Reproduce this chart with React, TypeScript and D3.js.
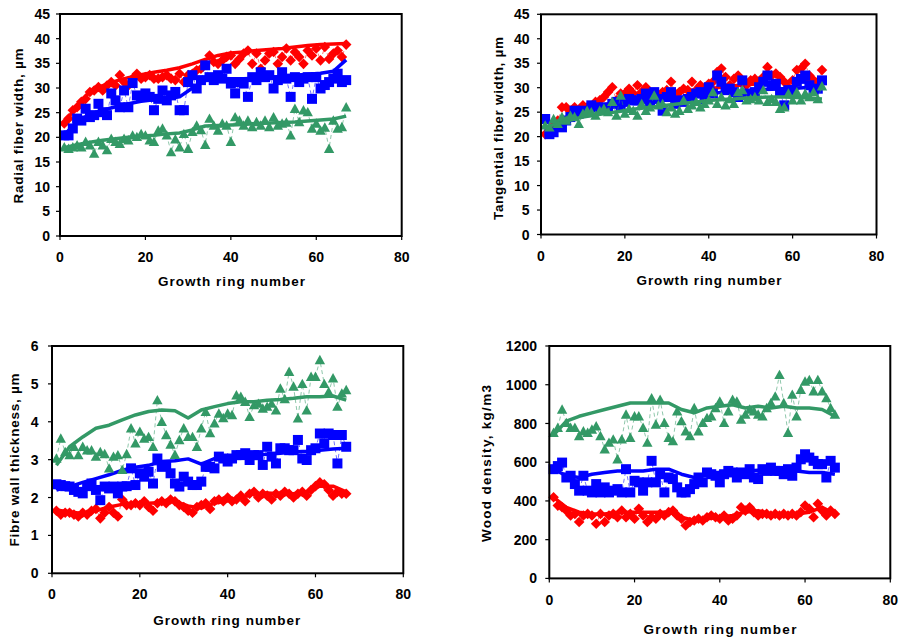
import React from 'react';
import * as d3 from 'd3';

// ring numbers of the thick trend lines
const TREND_RINGS = [1, 4, 7, 10, 13, 16, 19, 22, 25, 28, 31, 34, 37, 40, 43, 46, 49, 52, 55, 58, 61, 64, 67];
const X_TICKS = [0, 20, 40, 60, 80];
const X_TITLE = 'Growth ring number';

// ---- Radial fiber width (µm), rings 1..67
const RADIAL_RED = [22.8,23.8,25.5,26.1,27.2,27.8,29.2,29.5,30.2,29.5,30.5,31.2,30.5,32.6,31.2,30.5,31.9,32.9,31.9,32.2,32.6,31.9,31.9,32.2,32.6,31.9,31.6,32.9,31.2,32.6,32.9,33.6,33.9,34.9,36.6,35.3,34.9,35.6,36.3,36.6,34.9,35.9,37.0,37.6,34.9,37.0,33.9,35.6,37.0,37.3,34.9,36.3,38.0,35.6,37.3,36.3,34.9,37.6,36.6,38.0,35.6,38.3,35.9,37.0,37.6,36.3,38.8];
const RADIAL_BLUE = [20.4,20.4,21.8,23.8,23.4,25.8,24.1,24.5,26.8,25.1,24.5,28.9,27.5,26.1,29.5,26.1,31.0,28.5,28.2,28.9,28.2,25.5,27.8,29.5,27.5,28.5,29.2,25.5,25.5,31.2,32.6,29.9,31.6,34.6,32.2,31.6,32.6,31.9,33.9,30.9,28.9,31.2,30.9,28.2,32.2,31.6,33.2,32.2,32.6,29.9,31.6,33.2,31.9,28.2,32.2,31.2,31.9,32.2,27.8,32.2,29.9,30.6,31.2,31.9,32.9,31.2,31.6];
const RADIAL_GREEN = [18.0,17.7,18.0,18.4,18.0,19.1,18.4,16.7,19.1,18.4,17.4,19.7,19.1,18.7,19.7,19.4,20.4,20.1,20.7,20.4,19.4,19.1,21.4,21.8,20.4,17.0,19.6,18.0,20.7,17.7,21.1,22.4,21.5,18.5,23.8,22.4,21.4,22.8,22.4,19.1,24.1,23.4,22.4,23.4,22.1,23.1,22.4,23.4,22.1,24.1,22.4,22.8,23.0,20.4,25.8,23.1,25.5,25.1,21.8,22.8,21.4,22.0,17.7,23.4,21.8,22.1,26.1];
const RADIAL_RED_TREND = [22.8,26.5,29.3,30.5,31.4,32.1,32.7,33.2,33.6,34.1,34.9,35.8,36.6,37.1,37.3,37.6,37.8,38.0,38.3,38.6,38.8,38.9,39.0];
const RADIAL_BLUE_TREND = [20.5,23.2,24.7,25.5,26.2,26.8,27.3,27.6,27.8,28.2,30.0,31.5,31.9,31.9,31.9,32.0,32.1,32.4,32.6,32.8,33.0,33.4,35.7];
const RADIAL_GREEN_TREND = [17.9,18.5,19.0,19.4,19.7,20.0,20.2,20.4,20.7,20.9,21.5,22.3,22.4,22.5,22.6,22.8,22.9,23.0,23.1,23.3,23.5,23.7,24.3];

// ---- Tangential fiber width (µm)
const TANG_RED = [20.5,21.6,22.3,23.3,26.0,26.0,25.3,26.0,25.3,26.4,26.0,26.0,27.1,27.4,28.1,29.1,30.1,27.4,28.8,28.8,29.8,28.8,30.5,29.1,30.1,28.4,28.8,27.4,29.1,29.5,31.2,28.8,29.1,29.8,29.5,31.2,29.5,30.5,29.8,30.8,31.2,33.2,33.9,32.2,30.5,31.8,32.5,31.2,30.5,31.5,31.8,31.2,32.2,34.2,32.5,32.9,32.2,31.2,30.1,31.5,33.6,33.9,34.9,32.5,31.5,31.2,33.6];
const TANG_BLUE = [23.6,20.5,20.9,22.3,21.9,23.3,24.0,25.3,24.7,25.3,25.0,26.4,26.0,25.7,26.0,25.7,26.7,27.1,26.0,27.1,27.7,27.4,27.4,27.7,28.8,27.1,29.1,27.7,25.3,28.1,29.1,26.7,27.4,27.1,27.7,28.1,28.8,29.1,27.7,30.1,28.8,32.5,31.2,29.5,29.8,29.1,28.1,31.5,28.8,28.4,29.1,30.1,31.2,32.5,30.5,30.8,29.1,26.4,29.5,29.5,31.2,31.8,32.5,30.5,29.5,29.8,31.5];
const TANG_GREEN = [22.3,21.9,23.6,22.6,24.0,23.3,24.3,24.0,22.6,24.7,25.3,25.0,24.3,25.3,25.7,25.0,27.1,24.3,28.4,24.7,25.7,25.3,24.3,26.7,25.3,26.0,28.4,26.4,26.7,25.0,26.0,24.7,25.3,27.4,25.7,26.4,27.1,26.0,26.7,27.4,29.1,26.7,28.1,26.4,27.7,26.7,29.1,29.5,27.4,27.7,28.1,27.4,29.5,27.1,27.7,27.1,25.7,26.0,28.8,27.4,29.1,27.4,28.8,28.1,29.1,27.7,30.3];
const TANG_RED_TREND = [20.9,22.7,24.2,25.3,26.1,26.7,27.3,27.8,28.2,28.6,29.0,29.3,29.6,29.8,30.1,30.4,30.6,30.8,31.0,31.1,31.2,31.4,31.5];
const TANG_BLUE_TREND = [20.2,22.0,23.5,24.7,25.5,26.1,26.5,26.9,27.2,27.5,27.8,28.1,28.5,28.8,29.0,29.2,29.4,29.6,29.7,29.8,29.9,30.1,30.3];
const TANG_GREEN_TREND = [21.9,22.7,23.4,24.0,24.4,24.8,25.2,25.6,25.9,26.2,26.5,26.8,27.1,27.4,27.6,27.7,27.9,28.0,28.1,28.1,28.0,27.9,27.7];

// ---- Fibre wall thickness (µm)
const WALL_RED = [1.65,1.55,1.6,1.6,1.55,1.5,1.6,1.55,1.65,1.7,1.45,1.6,1.75,1.6,1.5,1.95,1.8,1.8,1.85,1.8,1.9,1.75,1.65,1.85,1.9,1.85,1.95,1.9,1.8,1.75,1.65,1.6,1.75,1.8,1.85,1.7,1.9,1.95,1.9,2.0,1.9,1.95,2.05,1.9,2.1,2.15,2.0,2.1,2.05,1.95,2.1,2.05,2.15,2.1,2.0,2.1,2.15,2.05,2.2,2.3,2.4,2.35,2.2,2.05,2.15,2.1,2.1];
const WALL_BLUE = [2.35,2.33,2.3,2.29,2.2,2.15,2.11,2.3,2.37,2.2,1.93,2.29,2.24,2.29,2.11,2.29,2.3,2.77,2.33,2.64,2.55,2.68,2.37,3.03,2.81,2.86,2.64,2.37,2.29,2.55,2.42,2.33,2.33,2.42,2.81,2.81,2.77,3.08,3.03,2.95,3.03,3.12,3.12,3.17,2.99,3.12,3.12,2.86,3.34,3.08,2.9,3.3,3.3,3.25,3.25,3.52,3.03,2.99,3.25,3.3,3.69,3.43,3.69,3.65,2.9,3.65,3.34];
const WALL_GREEN = [3.03,3.56,3.2,3.12,3.34,3.12,3.34,3.25,3.25,3.08,3.2,3.15,2.77,3.08,3.12,2.73,3.15,3.83,3.43,3.74,3.56,3.6,3.34,4.57,4.0,3.65,3.4,3.13,3.52,3.83,3.6,3.6,3.34,3.83,4.26,3.7,3.96,4.22,4.1,4.22,4.18,4.7,4.66,4.53,4.13,4.44,4.48,4.35,4.4,4.48,4.3,4.88,4.6,5.32,4.93,4.09,5.0,4.3,5.19,5.19,5.63,5.0,4.79,5.15,4.4,4.75,4.84];
const WALL_RED_TREND = [1.67,1.62,1.58,1.65,1.75,1.82,1.85,1.85,1.87,1.9,1.78,1.72,1.85,1.92,2.0,2.1,2.12,2.1,2.1,2.15,2.3,2.3,2.15];
const WALL_BLUE_TREND = [2.2,2.29,2.4,2.5,2.6,2.72,2.8,2.85,2.95,2.97,3.02,2.88,3.03,3.07,3.1,3.12,3.14,3.17,3.2,3.22,3.25,3.28,3.3];
const WALL_GREEN_TREND = [2.85,3.34,3.6,3.83,3.91,4.05,4.18,4.27,4.31,4.29,4.1,4.31,4.4,4.48,4.53,4.53,4.57,4.59,4.62,4.66,4.66,4.68,4.57];

// ---- Wood density (kg/m3)
const DENS_RED = [419,376,367,350,325,333,291,325,333,325,282,333,291,325,333,316,350,316,333,308,359,325,291,316,308,333,325,342,350,325,308,273,291,299,308,299,316,325,316,308,325,299,308,325,367,350,367,342,325,333,333,325,333,325,333,325,333,325,342,376,359,316,385,350,325,350,333];
const DENS_BLUE = [564,580,598,521,530,487,453,530,453,444,487,444,470,444,453,461,444,564,444,504,496,453,496,607,496,538,444,521,513,470,444,444,461,487,521,496,547,538,530,496,538,555,547,521,547,538,564,521,513,564,555,572,555,555,538,564,530,572,615,641,624,607,590,590,521,607,572];
const DENS_GREEN = [752,778,872,803,778,778,735,760,752,769,786,735,667,701,718,615,718,846,726,837,837,778,701,931,795,923,803,726,709,863,812,760,735,880,760,803,829,837,880,914,803,863,923,914,820,846,872,863,846,837,880,906,940,1051,906,752,949,837,974,1017,1025,966,1025,966,931,880,846];
const DENS_RED_TREND = [419,367,342,333,333,342,342,342,342,342,316,299,308,316,325,342,350,333,333,333,342,367,333];
const DENS_BLUE_TREND = [564,530,521,538,547,555,555,555,564,564,538,521,538,547,555,555,559,564,564,555,547,547,538];
const DENS_GREEN_TREND = [740,812,837,855,872,889,906,906,906,906,872,855,880,889,897,880,889,880,889,880,880,872,837];

const RED = '#FF0000';
const BLUE = '#0000FF';
const GREEN = '#339966';

type Kind = 'diamond' | 'square' | 'triangle';
interface SeriesDef { color: string; kind: Kind; points: number[]; trend: number[] }
interface PanelDef {
  title: string; yMax: number; yStep: number;
  left: number; right: number; top: number; bottom: number;
  yLabelRight: number; xLabelBase: number; xTitleBase: number; xTitleCx: number; xTitleLen: number;
  yTitleCx: number; yTitleCy: number; yTitleLen: number;
  series: SeriesDef[];
}

const PANELS: PanelDef[] = [
  {
    title: 'Radial fiber width, µm', yMax: 45, yStep: 5,
    left: 60, right: 401.7, top: 14, bottom: 236,
    yLabelRight: 50, xLabelBase: 261.5, xTitleBase: 285.5, xTitleCx: 231.5, xTitleLen: 147,
    yTitleCx: 18, yTitleCy: 126, yTitleLen: 155,
    series: [
      { color: RED, kind: 'diamond', points: RADIAL_RED, trend: RADIAL_RED_TREND },
      { color: BLUE, kind: 'square', points: RADIAL_BLUE, trend: RADIAL_BLUE_TREND },
      { color: GREEN, kind: 'triangle', points: RADIAL_GREEN, trend: RADIAL_GREEN_TREND },
    ],
  },
  {
    title: 'Tangential fiber width, µm', yMax: 45, yStep: 5,
    left: 541, right: 876.5, top: 14.3, bottom: 234.5,
    yLabelRight: 529.5, xLabelBase: 260.7, xTitleBase: 284.5, xTitleCx: 709, xTitleLen: 145,
    yTitleCx: 498.5, yTitleCy: 128.5, yTitleLen: 183,
    series: [
      { color: RED, kind: 'diamond', points: TANG_RED, trend: TANG_RED_TREND },
      { color: BLUE, kind: 'square', points: TANG_BLUE, trend: TANG_BLUE_TREND },
      { color: GREEN, kind: 'triangle', points: TANG_GREEN, trend: TANG_GREEN_TREND },
    ],
  },
  {
    title: 'Fibre wall thickness, µm', yMax: 6, yStep: 1,
    left: 52, right: 403.3, top: 346, bottom: 573.3,
    yLabelRight: 38.5, xLabelBase: 599, xTitleBase: 625, xTitleCx: 226.7, xTitleLen: 147,
    yTitleCx: 14.5, yTitleCy: 460, yTitleLen: 173,
    series: [
      { color: RED, kind: 'diamond', points: WALL_RED, trend: WALL_RED_TREND },
      { color: BLUE, kind: 'square', points: WALL_BLUE, trend: WALL_BLUE_TREND },
      { color: GREEN, kind: 'triangle', points: WALL_GREEN, trend: WALL_GREEN_TREND },
    ],
  },
  {
    title: 'Wood density, kg/m3', yMax: 1200, yStep: 200,
    left: 549.3, right: 890.3, top: 346, bottom: 578.4,
    yLabelRight: 537, xLabelBase: 605, xTitleBase: 633.5, xTitleCx: 720, xTitleLen: 153,
    yTitleCx: 486, yTitleCy: 463.5, yTitleLen: 157,
    series: [
      { color: RED, kind: 'diamond', points: DENS_RED, trend: DENS_RED_TREND },
      { color: BLUE, kind: 'square', points: DENS_BLUE, trend: DENS_BLUE_TREND },
      { color: GREEN, kind: 'triangle', points: DENS_GREEN, trend: DENS_GREEN_TREND },
    ],
  },
];

const FONT = '"Liberation Sans", Arial, Helvetica, sans-serif';

function markerPath(kind: Kind): string {
  if (kind === 'diamond') return 'M0,-5.3L5.3,0L0,5.3L-5.3,0Z';
  if (kind === 'square') return 'M-5,-5H5V5H-5Z';
  return 'M0,-5.2L5.2,4.2L-5.2,4.2Z';
}

function Panel({ p }: { p: PanelDef }) {
  const x = d3.scaleLinear().domain([0, 80]).range([p.left, p.right]);
  const y = d3.scaleLinear().domain([0, p.yMax]).range([p.bottom, p.top]);
  const yTicks = d3.range(0, p.yMax + p.yStep / 2, p.yStep);
  const thin = d3.line<number>().x((_, i) => x(i + 1)).y((d) => y(d));
  const trend = d3.line<number>().x((_, i) => x(TREND_RINGS[i])).y((d) => y(d));
  return (
    <g>
      {p.series.map((s, si) => (
        <g key={si}>
          <path d={thin(s.points) || ''} fill="none" stroke={s.color} strokeOpacity={0.55} strokeWidth={1} strokeDasharray="4,3" />
          <path d={trend(s.trend) || ''} fill="none" stroke={s.color} strokeWidth={3.5} strokeLinejoin="round" />
          {s.points.map((v, i) => (
            <path key={i} d={markerPath(s.kind)} transform={`translate(${x(i + 1)},${y(v)})`} fill={s.color} />
          ))}
        </g>
      ))}
      <rect x={p.left} y={p.top} width={p.right - p.left} height={p.bottom - p.top} fill="none" stroke="#000" strokeWidth={2} />
      {yTicks.map((t) => (
        <g key={'y' + t}>
          <line x1={p.left - 4} x2={p.left} y1={y(t)} y2={y(t)} stroke="#000" strokeWidth={1.2} />
          <text x={p.yLabelRight} y={y(t)} dy="0.36em" textAnchor="end" fontFamily={FONT} fontWeight="bold" fontSize={14}>{t}</text>
        </g>
      ))}
      {X_TICKS.map((t) => (
        <g key={'x' + t}>
          <line x1={x(t)} x2={x(t)} y1={p.bottom} y2={p.bottom + 4} stroke="#000" strokeWidth={1.2} />
          <text x={x(t)} y={p.xLabelBase} textAnchor="middle" fontFamily={FONT} fontWeight="bold" fontSize={14}>{t}</text>
        </g>
      ))}
      <text x={p.xTitleCx} y={p.xTitleBase} textAnchor="middle" fontFamily={FONT} fontWeight="bold" fontSize={13.5} textLength={p.xTitleLen} lengthAdjust="spacing">{X_TITLE}</text>
      <text transform={`translate(${p.yTitleCx},${p.yTitleCy}) rotate(-90)`} dy="0.36em" textAnchor="middle" fontFamily={FONT} fontWeight="bold" fontSize={13.5} textLength={p.yTitleLen} lengthAdjust="spacing">{p.title}</text>
    </g>
  );
}

export default function App() {
  return (
    <svg width={900} height={637} style={{ position: 'absolute', left: 0, top: 0, background: '#fff' }}>
      <rect x={0} y={0} width={900} height={637} fill="#fff" />
      {PANELS.map((p, i) => <Panel key={i} p={p} />)}
    </svg>
  );
}
